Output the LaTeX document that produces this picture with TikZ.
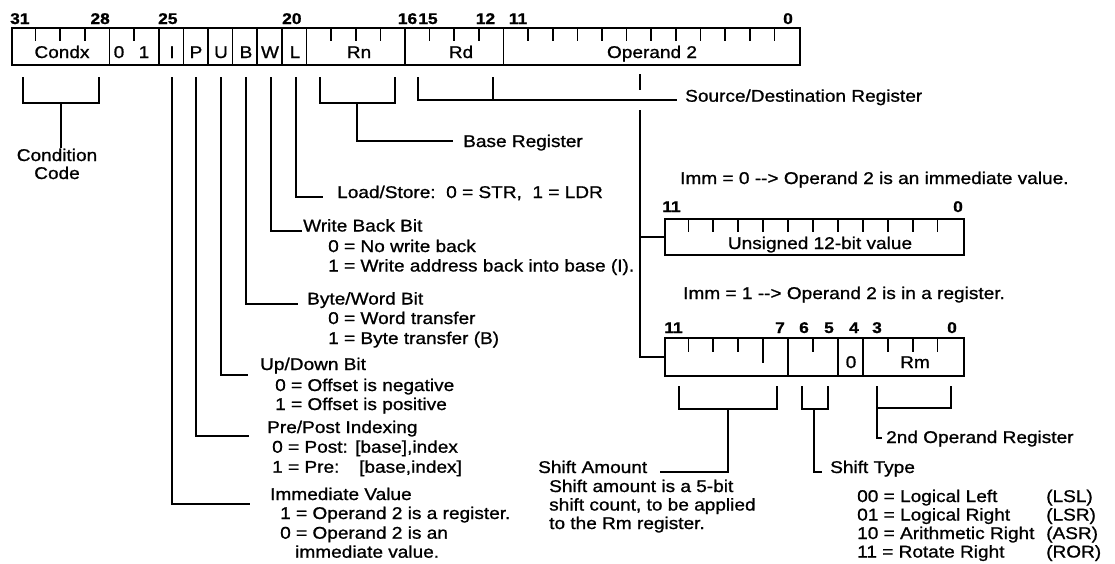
\documentclass[tikz,border=0pt]{standalone}
\usepackage{fontspec}
\setmainfont{Liberation Sans}[FakeStretch=1.12,FakeBold=1.0]
\begin{document}
\begin{tikzpicture}[x=1pt,y=-1pt,
  ln/.style={line width=1.7pt},
  boxln/.style={line width=2.3pt},
  txt/.style={anchor=base west, inner sep=0pt, font=\fontsize{17}{19}\selectfont},
  ctxt/.style={anchor=base, inner sep=0pt, font=\fontsize{17}{19}\selectfont},
  bitn/.style={anchor=base, inner sep=0pt, font=\fontsize{15.5}{17}\selectfont\bfseries},
  regbox/.style={draw, boxln, inner sep=0pt, anchor=north west}]
\fill[white] (0,0) rectangle (1115,563);
\useasboundingbox (0,0) rectangle (1115,563);
\def\bw{24.625}
\def\sw{24.917}
% ---------------- main register ----------------
\node[regbox, minimum width=788pt, minimum height=37pt] (reg) at (11,27) {};
\foreach \k in {4,6,7,8,9,10,11,12,16,20}
  \draw[ln] ({11+\k*\bw},27) -- ({11+\k*\bw},64);
\foreach \k in {1,2,3,5,13,14,15,17,18,19,21,22,...,31}
  \draw[ln] ({11+\k*\bw},27) -- ({11+\k*\bw},41);
% bit numbers
\node[bitn, anchor=base west] (n31) at (10,24) {31};
\node[bitn, anchor=base east] (n28) at (110,24) {28};
\node[bitn, anchor=base west] (n25) at (158,24) {25};
\node[bitn, anchor=base west] (n20) at (282,24) {20};
\node[bitn] (n16) at (407.5,24) {16};
\node[bitn] (n15) at (428,24) {15};
\node[bitn] (n12) at (485.5,24) {12};
\node[bitn] (n11) at (518,24) {11};
\node[bitn] (n0) at (788,24) {0};
% field labels
\node[ctxt] (fCond) at (62,58) {Condx};
\node[ctxt] (f0) at (119,58) {0};
\node[ctxt] (f1) at (144,58) {1};
\node[ctxt] (fI) at (172,58) {I};
\node[ctxt] (fP) at (196,58) {P};
\node[ctxt] (fU) at (221,58) {U};
\node[ctxt] (fB) at (246,58) {B};
\node[ctxt] (fW) at (270,58) {W};
\node[ctxt] (fL) at (295,58) {L};
\node[ctxt] (fRn) at (359,58) {Rn};
\node[ctxt] (fRd) at (461,58) {Rd};
\node[ctxt] (fOp) at (652,58) {Operand 2};
% ---------------- left labels ----------------
\node[ctxt] (cc1) at (57,161) {Condition};
\node[ctxt] (cc2) at (57,179) {Code};
\node[txt] (base) at (463,147) {Base Register};
\node[txt] (ls) at (337,198) {Load/Store:\ \ 0 = STR,\ \ 1 = LDR};
\node[txt] (wb) at (303,231.5) {Write Back Bit};
\node[txt] (wb0) at (328,252) {0 = No write back};
\node[txt] (wb1) at (328,271.5) {1 = Write address back into base (I).};
\node[txt] (bw) at (307,304.5) {Byte/Word Bit};
\node[txt] (bw0) at (328,324) {0 = Word transfer};
\node[txt] (bw1) at (328,344) {1 = Byte transfer (B)};
\node[txt] (ud) at (260,370) {Up/Down Bit};
\node[txt] (ud0) at (275,391) {0 = Offset is negative};
\node[txt] (ud1) at (275,410) {1 = Offset is positive};
\node[txt] (pp) at (267,433) {Pre/Post Indexing};
\node[txt] (pp0) at (272,452.7) {0 = Post:};
\node[txt] (pp0b) at (355,452.7) {[base],index};
\node[txt] (pp1) at (272,472.7) {1 = Pre:};
\node[txt] (pp1b) at (359,472.7) {[base,index]};
\node[txt] (iv) at (270,500) {Immediate Value};
\node[txt] (iv1) at (280,519) {1 = Operand 2 is a register.};
\node[txt] (iv0) at (280,538.7) {0 = Operand 2 is an};
\node[txt] (iv0b) at (295,557.7) {immediate value.};
% ---------------- connectors from main register ----------------
\coordinate (cL) at (23,77); \coordinate (cR) at (99,77);
\draw[ln] (cL) |- (61,103) -| (cR);
\draw[ln] (61,103) -- (cc1.north -| 61,103);
\draw[ln] (320,77) |- (357,103) -| (395,77);
\coordinate (baseEnd) at (453,141);
\draw[ln] (357,103) |- (baseEnd);
\draw[ln] (172,77) |- (250,504);
\draw[ln] (196,77) |- (249,436);
\draw[ln] (221,77) |- (248,375);
\draw[ln] (246,77) |- (298,304);
\draw[ln] (271,77) |- (302,231);
\draw[ln] (296,77) |- (323,197);
\draw[ln] (493,77) -- (493,100);
\node[txt] (sd) at (685,101.7) {Source/Destination Register};
\draw[ln] (418,77) |- (677,100);
% operand 2 stem
\coordinate (opTop) at (640,74);
\draw[ln] (opTop) -- (640,90);
% ---------------- operand 2 alternatives ----------------
\node[txt] (imm0) at (680,184) {Imm = 0 -{}-{}> Operand 2 is an immediate value.};
\node[regbox, minimum width=299pt, minimum height=36pt] (u12) at (663.5,218) {};
\foreach \k in {1,...,11}
  \draw[ln] ({663.5+\k*\sw},218) -- ({663.5+\k*\sw},232);
\node[bitn] (u11) at (671.5,212) {11};
\node[bitn] (u0) at (958,212) {0};
\node[ctxt] (uval) at (820,249) {Unsigned 12-bit value};
\node[txt] (imm1) at (683,299) {Imm = 1 -{}-{}> Operand 2 is in a register.};
\node[regbox, minimum width=299pt, minimum height=38pt] (rm) at (663.5,337) {};
\foreach \k in {5,7,8}
  \draw[ln] ({663.5+\k*\sw},337) -- ({663.5+\k*\sw},375);
\foreach \k in {1,2,3,6,9,10,11}
  \draw[ln] ({663.5+\k*\sw},337) -- ({663.5+\k*\sw},352);
\draw[ln] ({663.5+4*\sw},337) -- ({663.5+4*\sw},363);
\node[bitn] (r11) at (673.5,333) {11};
\node[bitn] (r7) at (780,333) {7};
\node[bitn] (r6) at (804,333) {6};
\node[bitn] (r5) at (829,333) {5};
\node[bitn] (r4) at (854,333) {4};
\node[bitn] (r3) at (877,333) {3};
\node[bitn] (r0) at (952,333) {0};
\node[ctxt] (rz) at (851,368) {0};
\node[ctxt] (rRm) at (915,368) {Rm};
\draw[ln] (640,110) |- (rm.west);
\draw[ln] (640,237) -- (u12.west |- 0,237);
% ---------------- brackets under operand register ----------------
\node[txt] (sa) at (538,473) {Shift Amount};
\node[txt] (sa1) at (549,492) {Shift amount is a 5-bit};
\node[txt] (sa2) at (549,510.5) {shift count, to be applied};
\node[txt] (sa3) at (549,529) {to the Rm register.};
\draw[ln] (679,386) |- (728,409) -| (777,386);
\draw[ln] (728,409) |- (660,472);
\node[txt] (st) at (830,473) {Shift Type};
\draw[ln] (802,386) |- (814,409) -| (828,386);
\draw[ln] (814,409) |- (822,472);
\node[txt] (st0) at (857,502) {00 = Logical Left};
\node[txt] (st1) at (857,520.5) {01 = Logical Right};
\node[txt] (st2) at (857,539) {10 = Arithmetic Right};
\node[txt] (st3) at (857,557.5) {11 = Rotate Right};
\node[txt] (st0b) at (1046,502) {(LSL)};
\node[txt] (st1b) at (1046,520.5) {(LSR)};
\node[txt] (st2b) at (1046,539) {(ASR)};
\node[txt] (st3b) at (1046,557.5) {(ROR)};
\node[txt] (op2r) at (886,443) {2nd Operand Register};
\draw[ln] (877,386) |- (882,438);
\draw[ln] (877,408) -| (951,386);
\end{tikzpicture}
\end{document}
